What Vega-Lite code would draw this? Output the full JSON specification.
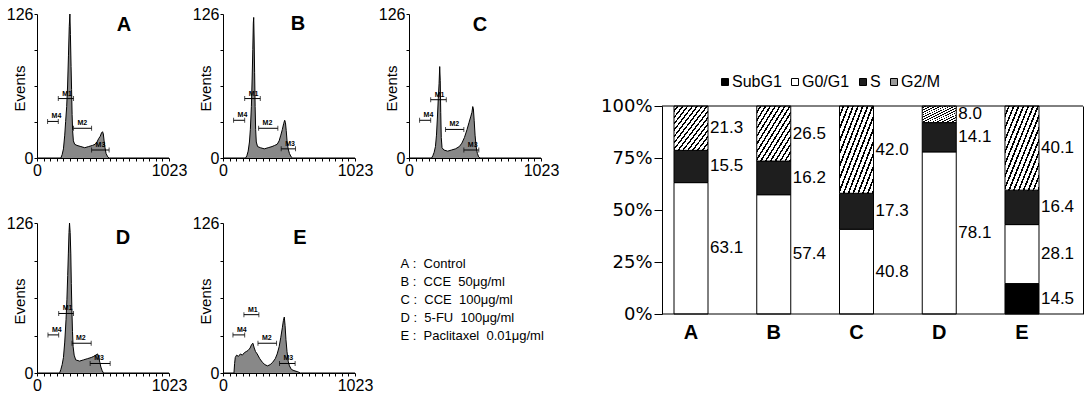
{
  "$schema": "https://vega.github.io/schema/vega-lite/v6.json",
  "padding": {"left": 6, "top": 6, "right": 0, "bottom": 0},
  "autosize": {"type": "pad"},
  "config": {
    "view": {"stroke": null},
    "font": "Liberation Sans",
    "axis": {"labelColor": "#000000", "domainColor": "#000000", "tickColor": "#000000", "titleColor": "#000000"},
    "text": {"color": "#000000"}
  },
  "datasets": {
    "hist": [
      {"p":"A","c":0,"n":0},{"p":"A","c":185,"n":0},{"p":"A","c":195,"n":3},{"p":"A","c":205,"n":8},{"p":"A","c":215,"n":20},{"p":"A","c":222,"n":32},{"p":"A","c":230,"n":45},{"p":"A","c":237,"n":63},{"p":"A","c":244,"n":90},{"p":"A","c":250,"n":115},{"p":"A","c":255,"n":126},{"p":"A","c":259,"n":108},{"p":"A","c":264,"n":80},{"p":"A","c":268,"n":60},{"p":"A","c":272,"n":38},{"p":"A","c":276,"n":24},{"p":"A","c":282,"n":15},{"p":"A","c":292,"n":12},{"p":"A","c":310,"n":11},{"p":"A","c":340,"n":10},{"p":"A","c":370,"n":9},{"p":"A","c":400,"n":10},{"p":"A","c":430,"n":11},{"p":"A","c":450,"n":12},{"p":"A","c":465,"n":14},{"p":"A","c":478,"n":17},{"p":"A","c":490,"n":19},{"p":"A","c":500,"n":22},{"p":"A","c":508,"n":23},{"p":"A","c":514,"n":21},{"p":"A","c":520,"n":15},{"p":"A","c":527,"n":9},{"p":"A","c":535,"n":4},{"p":"A","c":548,"n":1},{"p":"A","c":560,"n":0},{"p":"A","c":1023,"n":0},
      {"p":"B","c":0,"n":0},{"p":"B","c":175,"n":0},{"p":"B","c":185,"n":2},{"p":"B","c":195,"n":6},{"p":"B","c":205,"n":14},{"p":"B","c":212,"n":25},{"p":"B","c":220,"n":45},{"p":"B","c":226,"n":70},{"p":"B","c":231,"n":95},{"p":"B","c":235,"n":118},{"p":"B","c":238,"n":123},{"p":"B","c":241,"n":105},{"p":"B","c":245,"n":75},{"p":"B","c":249,"n":45},{"p":"B","c":253,"n":25},{"p":"B","c":258,"n":14},{"p":"B","c":268,"n":10},{"p":"B","c":290,"n":9},{"p":"B","c":320,"n":8},{"p":"B","c":350,"n":9},{"p":"B","c":380,"n":10},{"p":"B","c":400,"n":11},{"p":"B","c":420,"n":12},{"p":"B","c":435,"n":15},{"p":"B","c":448,"n":20},{"p":"B","c":460,"n":25},{"p":"B","c":470,"n":30},{"p":"B","c":478,"n":33},{"p":"B","c":484,"n":31},{"p":"B","c":490,"n":24},{"p":"B","c":497,"n":14},{"p":"B","c":505,"n":8},{"p":"B","c":515,"n":4},{"p":"B","c":528,"n":1},{"p":"B","c":540,"n":0},{"p":"B","c":1023,"n":0},
      {"p":"C","c":0,"n":0},{"p":"C","c":175,"n":0},{"p":"C","c":185,"n":2},{"p":"C","c":195,"n":5},{"p":"C","c":205,"n":10},{"p":"C","c":213,"n":20},{"p":"C","c":220,"n":35},{"p":"C","c":227,"n":52},{"p":"C","c":233,"n":65},{"p":"C","c":238,"n":80},{"p":"C","c":242,"n":68},{"p":"C","c":246,"n":40},{"p":"C","c":250,"n":18},{"p":"C","c":256,"n":9},{"p":"C","c":270,"n":7},{"p":"C","c":300,"n":6},{"p":"C","c":330,"n":7},{"p":"C","c":360,"n":8},{"p":"C","c":390,"n":10},{"p":"C","c":410,"n":13},{"p":"C","c":430,"n":18},{"p":"C","c":450,"n":25},{"p":"C","c":465,"n":31},{"p":"C","c":478,"n":36},{"p":"C","c":488,"n":40},{"p":"C","c":494,"n":45},{"p":"C","c":499,"n":43},{"p":"C","c":505,"n":33},{"p":"C","c":512,"n":20},{"p":"C","c":520,"n":10},{"p":"C","c":530,"n":4},{"p":"C","c":540,"n":1},{"p":"C","c":550,"n":0},{"p":"C","c":1023,"n":0},
      {"p":"D","c":0,"n":0},{"p":"D","c":175,"n":0},{"p":"D","c":185,"n":3},{"p":"D","c":195,"n":7},{"p":"D","c":205,"n":13},{"p":"D","c":215,"n":26},{"p":"D","c":225,"n":45},{"p":"D","c":232,"n":62},{"p":"D","c":238,"n":82},{"p":"D","c":243,"n":100},{"p":"D","c":248,"n":118},{"p":"D","c":252,"n":126},{"p":"D","c":257,"n":118},{"p":"D","c":262,"n":100},{"p":"D","c":266,"n":75},{"p":"D","c":270,"n":55},{"p":"D","c":275,"n":35},{"p":"D","c":280,"n":22},{"p":"D","c":288,"n":15},{"p":"D","c":300,"n":11},{"p":"D","c":330,"n":10},{"p":"D","c":360,"n":11},{"p":"D","c":390,"n":12},{"p":"D","c":420,"n":13},{"p":"D","c":440,"n":14},{"p":"D","c":455,"n":15},{"p":"D","c":470,"n":16},{"p":"D","c":478,"n":13},{"p":"D","c":487,"n":9},{"p":"D","c":495,"n":5},{"p":"D","c":505,"n":2},{"p":"D","c":515,"n":0},{"p":"D","c":1023,"n":0},
      {"p":"E","c":0,"n":0},{"p":"E","c":85,"n":0},{"p":"E","c":90,"n":8},{"p":"E","c":95,"n":13},{"p":"E","c":105,"n":15},{"p":"E","c":120,"n":14},{"p":"E","c":135,"n":16},{"p":"E","c":150,"n":15},{"p":"E","c":165,"n":17},{"p":"E","c":180,"n":18},{"p":"E","c":195,"n":19},{"p":"E","c":210,"n":21},{"p":"E","c":222,"n":24},{"p":"E","c":232,"n":25},{"p":"E","c":242,"n":21},{"p":"E","c":252,"n":18},{"p":"E","c":265,"n":16},{"p":"E","c":285,"n":12},{"p":"E","c":305,"n":9},{"p":"E","c":325,"n":7},{"p":"E","c":345,"n":6},{"p":"E","c":365,"n":7},{"p":"E","c":385,"n":9},{"p":"E","c":405,"n":12},{"p":"E","c":420,"n":16},{"p":"E","c":435,"n":22},{"p":"E","c":448,"n":30},{"p":"E","c":460,"n":38},{"p":"E","c":468,"n":44},{"p":"E","c":475,"n":47},{"p":"E","c":481,"n":40},{"p":"E","c":488,"n":28},{"p":"E","c":496,"n":18},{"p":"E","c":505,"n":10},{"p":"E","c":515,"n":6},{"p":"E","c":530,"n":3},{"p":"E","c":550,"n":2},{"p":"E","c":580,"n":1},{"p":"E","c":600,"n":0},{"p":"E","c":1023,"n":0}
    ],
    "mk": [
      {"p":"A","m":"M4","x1":82,"x2":165,"y":32},{"p":"A","m":"M1","x1":165,"x2":283,"y":52},{"p":"A","m":"M2","x1":283,"x2":423,"y":26},{"p":"A","m":"M3","x1":423,"x2":559,"y":7},
      {"p":"B","m":"M4","x1":82,"x2":168,"y":33},{"p":"B","m":"M1","x1":168,"x2":289,"y":52},{"p":"B","m":"M2","x1":276,"x2":425,"y":26},{"p":"B","m":"M3","x1":451,"x2":562,"y":8},
      {"p":"C","m":"M4","x1":82,"x2":168,"y":33},{"p":"C","m":"M1","x1":168,"x2":289,"y":51},{"p":"C","m":"M2","x1":283,"x2":425,"y":25},{"p":"C","m":"M3","x1":425,"x2":541,"y":7},
      {"p":"D","m":"M4","x1":85,"x2":168,"y":32},{"p":"D","m":"M1","x1":168,"x2":283,"y":50},{"p":"D","m":"M2","x1":271,"x2":420,"y":25},{"p":"D","m":"M3","x1":412,"x2":567,"y":8},
      {"p":"E","m":"M4","x1":77,"x2":168,"y":32},{"p":"E","m":"M1","x1":162,"x2":278,"y":49},{"p":"E","m":"M2","x1":271,"x2":415,"y":25},{"p":"E","m":"M3","x1":438,"x2":559,"y":8}
    ],
    "cycle": [
      {"g":"A","phase":"G0/G1","v":63.1,"o":2},{"g":"A","phase":"S","v":15.5,"o":3},{"g":"A","phase":"G2/M","v":21.3,"o":4},
      {"g":"B","phase":"G0/G1","v":57.4,"o":2},{"g":"B","phase":"S","v":16.2,"o":3},{"g":"B","phase":"G2/M","v":26.5,"o":4},
      {"g":"C","phase":"G0/G1","v":40.8,"o":2},{"g":"C","phase":"S","v":17.3,"o":3},{"g":"C","phase":"G2/M","v":42.0,"o":4},
      {"g":"D","phase":"G0/G1","v":78.1,"o":2},{"g":"D","phase":"S","v":14.1,"o":3},{"g":"D","phase":"G2/M","v":8.0,"o":4},
      {"g":"E","phase":"SubG1","v":14.5,"o":1},{"g":"E","phase":"G0/G1","v":28.1,"o":2},{"g":"E","phase":"S","v":16.4,"o":3},{"g":"E","phase":"G2/M","v":40.1,"o":4}
    ],
    "leg": [
      {"r":1,"t":"A\u00a0:\u00a0\u00a0Control"},
      {"r":2,"t":"B\u00a0:\u00a0\u00a0CCE\u00a0\u00a050μg/ml"},
      {"r":3,"t":"C\u00a0:\u00a0\u00a0CCE\u00a0\u00a0100μg/ml"},
      {"r":4,"t":"D\u00a0:\u00a0\u00a05-FU\u00a0\u00a0100μg/ml"},
      {"r":5,"t":"E\u00a0:\u00a0\u00a0Paclitaxel\u00a0\u00a00.01μg/ml"}
    ]
  },
  "bounds": "flush",
  "align": "each",
  "columns": 4,
  "spacing": {"row": 65, "column": 54},
  "resolve": {"scale": {"fill": "independent"}, "legend": {"fill": "independent"}},
  "concat": [
    {"width": 132, "height": 144, "resolve": {"axis": {"x": "independent", "y": "independent"}}, "layer": [
      {"data": {"name": "hist"}, "transform": [{"filter": "datum.p == 'A'"}],
       "mark": {"type": "area", "color": "#555555", "line": {"color": "#000000", "strokeWidth": 1}},
       "encoding": {
         "x": {"field": "c", "type": "quantitative", "scale": {"domain": [0, 1023], "nice": false}, "axis": {"values": [0,51.15,102.3,153.45,204.6,255.75,306.9,358.05,409.2,460.35,511.5,562.65,613.8,664.95,716.1,767.25,818.4,869.55,920.7,971.85,1023], "labelExpr": "datum.value == 0 || datum.value == 1023 ? datum.label : ''", "format": "d", "title": null, "grid": false, "domain": true, "ticks": true, "domainWidth": 1, "tickWidth": 1, "tickSize": 3, "labelFlush": false, "labelPadding": 1, "labelFontSize": 16, "labelOverlap": false, "labelFont": "Liberation Sans Narrow, Liberation Sans, sans-serif"}},
         "y": {"field": "n", "type": "quantitative", "scale": {"domain": [0, 126], "nice": false}, "axis": {"values": [0,31.5,63,94.5,126], "labelExpr": "datum.value == 0 || datum.value == 126 ? datum.label : ''", "format": "d", "title": "Events", "titleX": -18, "titleY": 74, "titleAngle": -90, "titleAlign": "center", "titleBaseline": "middle", "titleFontSize": 15, "titleFontWeight": "normal", "titleFont": "Liberation Sans", "grid": false, "domain": true, "ticks": true, "domainWidth": 1, "tickWidth": 1, "tickSize": 3, "labelPadding": 1, "labelFontSize": 16, "labelFont": "Liberation Sans Narrow, Liberation Sans, sans-serif", "labelOverlap": false, "labelFlush": false}}
       }},
      {"data": {"name": "mk"}, "transform": [{"filter": "datum.p == 'A'"}], "layer": [
        {"mark": {"type": "rule", "color": "#000000", "strokeWidth": 1}, "encoding": {"x": {"field": "x1", "type": "quantitative", "axis": null}, "x2": {"field": "x2"}, "y": {"field": "y", "type": "quantitative", "axis": null}}},
        {"mark": {"type": "tick", "orient": "vertical", "size": 5, "thickness": 1, "color": "#000000"}, "encoding": {"x": {"field": "x1", "type": "quantitative", "axis": null}, "y": {"field": "y", "type": "quantitative", "axis": null}}},
        {"mark": {"type": "tick", "orient": "vertical", "size": 5, "thickness": 1, "color": "#000000"}, "encoding": {"x": {"field": "x2", "type": "quantitative", "axis": null}, "y": {"field": "y", "type": "quantitative", "axis": null}}},
        {"mark": {"type": "text", "align": "left", "dx": 4, "dy": -5, "fontSize": 7, "fontWeight": "bold"}, "encoding": {"x": {"field": "x1", "type": "quantitative", "axis": null}, "y": {"field": "y", "type": "quantitative", "axis": null}, "text": {"field": "m"}}}
      ]},
      {"data": {"values": [{}]}, "mark": {"type": "text", "fontSize": 20, "fontWeight": "bold", "baseline": "middle"}, "encoding": {"x": {"datum": 674, "type": "quantitative", "axis": null}, "y": {"datum": 116.5, "type": "quantitative", "axis": null}, "text": {"value": "A"}}}
    ]},
    {"width": 132, "height": 144, "resolve": {"axis": {"x": "independent", "y": "independent"}}, "layer": [
      {"data": {"name": "hist"}, "transform": [{"filter": "datum.p == 'B'"}],
       "mark": {"type": "area", "color": "#555555", "line": {"color": "#000000", "strokeWidth": 1}},
       "encoding": {
         "x": {"field": "c", "type": "quantitative", "scale": {"domain": [0, 1023], "nice": false}, "axis": {"values": [0,51.15,102.3,153.45,204.6,255.75,306.9,358.05,409.2,460.35,511.5,562.65,613.8,664.95,716.1,767.25,818.4,869.55,920.7,971.85,1023], "labelExpr": "datum.value == 0 || datum.value == 1023 ? datum.label : ''", "format": "d", "title": null, "grid": false, "domain": true, "ticks": true, "domainWidth": 1, "tickWidth": 1, "tickSize": 3, "labelFlush": false, "labelPadding": 1, "labelFontSize": 16, "labelOverlap": false, "labelFont": "Liberation Sans Narrow, Liberation Sans, sans-serif"}},
         "y": {"field": "n", "type": "quantitative", "scale": {"domain": [0, 126], "nice": false}, "axis": {"values": [0,31.5,63,94.5,126], "labelExpr": "datum.value == 0 || datum.value == 126 ? datum.label : ''", "format": "d", "title": "Events", "titleX": -18, "titleY": 74, "titleAngle": -90, "titleAlign": "center", "titleBaseline": "middle", "titleFontSize": 15, "titleFontWeight": "normal", "titleFont": "Liberation Sans", "grid": false, "domain": true, "ticks": true, "domainWidth": 1, "tickWidth": 1, "tickSize": 3, "labelPadding": 1, "labelFontSize": 16, "labelFont": "Liberation Sans Narrow, Liberation Sans, sans-serif", "labelOverlap": false, "labelFlush": false}}
       }},
      {"data": {"name": "mk"}, "transform": [{"filter": "datum.p == 'B'"}], "layer": [
        {"mark": {"type": "rule", "color": "#000000", "strokeWidth": 1}, "encoding": {"x": {"field": "x1", "type": "quantitative", "axis": null}, "x2": {"field": "x2"}, "y": {"field": "y", "type": "quantitative", "axis": null}}},
        {"mark": {"type": "tick", "orient": "vertical", "size": 5, "thickness": 1, "color": "#000000"}, "encoding": {"x": {"field": "x1", "type": "quantitative", "axis": null}, "y": {"field": "y", "type": "quantitative", "axis": null}}},
        {"mark": {"type": "tick", "orient": "vertical", "size": 5, "thickness": 1, "color": "#000000"}, "encoding": {"x": {"field": "x2", "type": "quantitative", "axis": null}, "y": {"field": "y", "type": "quantitative", "axis": null}}},
        {"mark": {"type": "text", "align": "left", "dx": 4, "dy": -5, "fontSize": 7, "fontWeight": "bold"}, "encoding": {"x": {"field": "x1", "type": "quantitative", "axis": null}, "y": {"field": "y", "type": "quantitative", "axis": null}, "text": {"field": "m"}}}
      ]},
      {"data": {"values": [{}]}, "mark": {"type": "text", "fontSize": 20, "fontWeight": "bold", "baseline": "middle"}, "encoding": {"x": {"datum": 581, "type": "quantitative", "axis": null}, "y": {"datum": 117.5, "type": "quantitative", "axis": null}, "text": {"value": "B"}}}
    ]},
    {"width": 132, "height": 144, "resolve": {"axis": {"x": "independent", "y": "independent"}}, "layer": [
      {"data": {"name": "hist"}, "transform": [{"filter": "datum.p == 'C'"}],
       "mark": {"type": "area", "color": "#555555", "line": {"color": "#000000", "strokeWidth": 1}},
       "encoding": {
         "x": {"field": "c", "type": "quantitative", "scale": {"domain": [0, 1023], "nice": false}, "axis": {"values": [0,51.15,102.3,153.45,204.6,255.75,306.9,358.05,409.2,460.35,511.5,562.65,613.8,664.95,716.1,767.25,818.4,869.55,920.7,971.85,1023], "labelExpr": "datum.value == 0 || datum.value == 1023 ? datum.label : ''", "format": "d", "title": null, "grid": false, "domain": true, "ticks": true, "domainWidth": 1, "tickWidth": 1, "tickSize": 3, "labelFlush": false, "labelPadding": 1, "labelFontSize": 16, "labelOverlap": false, "labelFont": "Liberation Sans Narrow, Liberation Sans, sans-serif"}},
         "y": {"field": "n", "type": "quantitative", "scale": {"domain": [0, 126], "nice": false}, "axis": {"values": [0,31.5,63,94.5,126], "labelExpr": "datum.value == 0 || datum.value == 126 ? datum.label : ''", "format": "d", "title": "Events", "titleX": -18, "titleY": 74, "titleAngle": -90, "titleAlign": "center", "titleBaseline": "middle", "titleFontSize": 15, "titleFontWeight": "normal", "titleFont": "Liberation Sans", "grid": false, "domain": true, "ticks": true, "domainWidth": 1, "tickWidth": 1, "tickSize": 3, "labelPadding": 1, "labelFontSize": 16, "labelFont": "Liberation Sans Narrow, Liberation Sans, sans-serif", "labelOverlap": false, "labelFlush": false}}
       }},
      {"data": {"name": "mk"}, "transform": [{"filter": "datum.p == 'C'"}], "layer": [
        {"mark": {"type": "rule", "color": "#000000", "strokeWidth": 1}, "encoding": {"x": {"field": "x1", "type": "quantitative", "axis": null}, "x2": {"field": "x2"}, "y": {"field": "y", "type": "quantitative", "axis": null}}},
        {"mark": {"type": "tick", "orient": "vertical", "size": 5, "thickness": 1, "color": "#000000"}, "encoding": {"x": {"field": "x1", "type": "quantitative", "axis": null}, "y": {"field": "y", "type": "quantitative", "axis": null}}},
        {"mark": {"type": "tick", "orient": "vertical", "size": 5, "thickness": 1, "color": "#000000"}, "encoding": {"x": {"field": "x2", "type": "quantitative", "axis": null}, "y": {"field": "y", "type": "quantitative", "axis": null}}},
        {"mark": {"type": "text", "align": "left", "dx": 4, "dy": -5, "fontSize": 7, "fontWeight": "bold"}, "encoding": {"x": {"field": "x1", "type": "quantitative", "axis": null}, "y": {"field": "y", "type": "quantitative", "axis": null}, "text": {"field": "m"}}}
      ]},
      {"data": {"values": [{}]}, "mark": {"type": "text", "fontSize": 20, "fontWeight": "bold", "baseline": "middle"}, "encoding": {"x": {"datum": 550, "type": "quantitative", "axis": null}, "y": {"datum": 116.7, "type": "quantitative", "axis": null}, "text": {"value": "C"}}}
    ]},
    {"width": 421, "height": 144,
     "data": {"name": "cycle"},
     "resolve": {"axis": {"y": "independent"}},
     "layer": [
       {"mark": {"type": "bar", "width": 34, "xOffset": -16, "stroke": "#000000", "strokeWidth": 1},
        "encoding": {
          "x": {"field": "g", "type": "nominal", "scale": {"paddingInner": 0, "paddingOuter": 0.044}, "axis": {"title": null, "labelAngle": 0, "labelFontSize": 20, "labelFontWeight": "bold", "labelFont": "Liberation Sans", "ticks": false, "domain": false, "labelOffset": -16, "labelPadding": 8, "offset": 156}},
          "y": {"field": "v", "type": "quantitative", "stack": "normalize", "scale": {"domain": [0, 1], "nice": false, "range": [300, 92]}, "axis": {"values": [0, 0.25, 0.5, 0.75, 1], "format": ".0%", "title": null, "grid": false, "tickSize": 8, "labelPadding": 2, "labelFontSize": 18, "labelFont": "DejaVu Sans", "labelFlush": false}},
          "order": {"field": "o", "type": "quantitative"},
          "fill": {
            "condition": {"test": "datum.phase === 'G2/M'", "value": {"gradient": "linear", "x1": 0, "y1": 0, "x2": 1, "y2": 1, "stops": [
              {"offset": 0, "color": "#ffffff"},{"offset": 0.0464, "color": "#ffffff"},{"offset": 0.0464, "color": "#000000"},{"offset": 0.0714, "color": "#000000"},
              {"offset": 0.0714, "color": "#ffffff"},{"offset": 0.1179, "color": "#ffffff"},{"offset": 0.1179, "color": "#000000"},{"offset": 0.1429, "color": "#000000"},
              {"offset": 0.1429, "color": "#ffffff"},{"offset": 0.1893, "color": "#ffffff"},{"offset": 0.1893, "color": "#000000"},{"offset": 0.2143, "color": "#000000"},
              {"offset": 0.2143, "color": "#ffffff"},{"offset": 0.2607, "color": "#ffffff"},{"offset": 0.2607, "color": "#000000"},{"offset": 0.2857, "color": "#000000"},
              {"offset": 0.2857, "color": "#ffffff"},{"offset": 0.3321, "color": "#ffffff"},{"offset": 0.3321, "color": "#000000"},{"offset": 0.3571, "color": "#000000"},
              {"offset": 0.3571, "color": "#ffffff"},{"offset": 0.4036, "color": "#ffffff"},{"offset": 0.4036, "color": "#000000"},{"offset": 0.4286, "color": "#000000"},
              {"offset": 0.4286, "color": "#ffffff"},{"offset": 0.475, "color": "#ffffff"},{"offset": 0.475, "color": "#000000"},{"offset": 0.5, "color": "#000000"},
              {"offset": 0.5, "color": "#ffffff"},{"offset": 0.5464, "color": "#ffffff"},{"offset": 0.5464, "color": "#000000"},{"offset": 0.5714, "color": "#000000"},
              {"offset": 0.5714, "color": "#ffffff"},{"offset": 0.6179, "color": "#ffffff"},{"offset": 0.6179, "color": "#000000"},{"offset": 0.6429, "color": "#000000"},
              {"offset": 0.6429, "color": "#ffffff"},{"offset": 0.6893, "color": "#ffffff"},{"offset": 0.6893, "color": "#000000"},{"offset": 0.7143, "color": "#000000"},
              {"offset": 0.7143, "color": "#ffffff"},{"offset": 0.7607, "color": "#ffffff"},{"offset": 0.7607, "color": "#000000"},{"offset": 0.7857, "color": "#000000"},
              {"offset": 0.7857, "color": "#ffffff"},{"offset": 0.8321, "color": "#ffffff"},{"offset": 0.8321, "color": "#000000"},{"offset": 0.8571, "color": "#000000"},
              {"offset": 0.8571, "color": "#ffffff"},{"offset": 0.9036, "color": "#ffffff"},{"offset": 0.9036, "color": "#000000"},{"offset": 0.9286, "color": "#000000"},
              {"offset": 0.9286, "color": "#ffffff"},{"offset": 0.975, "color": "#ffffff"},{"offset": 0.975, "color": "#000000"},{"offset": 1, "color": "#000000"}
            ]}},
            "field": "phase", "type": "nominal",
            "scale": {"domain": ["SubG1", "G0/G1", "S", "G2/M"], "range": ["#000000", "#ffffff", "#1e1e1e", "#9a9a9a"]},
            "legend": {"orient": "none", "legendX": 55, "legendY": 60, "direction": "horizontal", "title": null, "symbolType": "square", "symbolSize": 49, "symbolStrokeColor": "#000000", "symbolStrokeWidth": 1, "labelFontSize": 16, "labelOffset": -1, "columnPadding": 5, "labelFont": "Liberation Sans", "labelColor": "#000000", "labelExpr": "datum.label == 'S' ? 'S\u00a0\u00a0\u00a0\u00a0\u00a0' : datum.label"}
          }
        }},
       {"mark": {"type": "text", "align": "left", "baseline": "middle", "dx": 3, "fontSize": 17},
        "encoding": {
          "x": {"field": "g", "type": "nominal"},
          "y": {"field": "v", "type": "quantitative", "stack": "normalize", "bandPosition": 0.5, "axis": null},
          "detail": {"field": "phase"},
          "order": {"field": "o", "type": "quantitative"},
          "text": {"field": "v", "type": "quantitative", "format": ".1f"}
        }},
       {"data": {"values": [{}]}, "mark": {"type": "rule", "color": "#000000", "strokeWidth": 1},
        "encoding": {"y": {"datum": 1, "type": "quantitative", "axis": {"orient": "right", "labels": false, "ticks": false, "domain": true, "title": null, "grid": false}}}},
       {"data": {"values": [{}]}, "mark": {"type": "rule", "color": "#000000", "strokeWidth": 1},
        "encoding": {"y": {"datum": 0, "type": "quantitative", "axis": null}}}
     ]},
    {"width": 132, "height": 150, "resolve": {"axis": {"x": "independent", "y": "independent"}}, "layer": [
      {"data": {"name": "hist"}, "transform": [{"filter": "datum.p == 'D'"}],
       "mark": {"type": "area", "color": "#555555", "line": {"color": "#000000", "strokeWidth": 1}},
       "encoding": {
         "x": {"field": "c", "type": "quantitative", "scale": {"domain": [0, 1023], "nice": false}, "axis": {"values": [0,51.15,102.3,153.45,204.6,255.75,306.9,358.05,409.2,460.35,511.5,562.65,613.8,664.95,716.1,767.25,818.4,869.55,920.7,971.85,1023], "labelExpr": "datum.value == 0 || datum.value == 1023 ? datum.label : ''", "format": "d", "title": null, "grid": false, "domain": true, "ticks": true, "domainWidth": 1, "tickWidth": 1, "tickSize": 3, "labelFlush": false, "labelPadding": 1, "labelFontSize": 16, "labelOverlap": false, "labelFont": "Liberation Sans Narrow, Liberation Sans, sans-serif"}},
         "y": {"field": "n", "type": "quantitative", "scale": {"domain": [0, 126], "nice": false}, "axis": {"values": [0,31.5,63,94.5,126], "labelExpr": "datum.value == 0 || datum.value == 126 ? datum.label : ''", "format": "d", "title": "Events", "titleX": -18, "titleY": 78, "titleAngle": -90, "titleAlign": "center", "titleBaseline": "middle", "titleFontSize": 15, "titleFontWeight": "normal", "titleFont": "Liberation Sans", "grid": false, "domain": true, "ticks": true, "domainWidth": 1, "tickWidth": 1, "tickSize": 3, "labelPadding": 1, "labelFontSize": 16, "labelFont": "Liberation Sans Narrow, Liberation Sans, sans-serif", "labelOverlap": false, "labelFlush": false}}
       }},
      {"data": {"name": "mk"}, "transform": [{"filter": "datum.p == 'D'"}], "layer": [
        {"mark": {"type": "rule", "color": "#000000", "strokeWidth": 1}, "encoding": {"x": {"field": "x1", "type": "quantitative", "axis": null}, "x2": {"field": "x2"}, "y": {"field": "y", "type": "quantitative", "axis": null}}},
        {"mark": {"type": "tick", "orient": "vertical", "size": 5, "thickness": 1, "color": "#000000"}, "encoding": {"x": {"field": "x1", "type": "quantitative", "axis": null}, "y": {"field": "y", "type": "quantitative", "axis": null}}},
        {"mark": {"type": "tick", "orient": "vertical", "size": 5, "thickness": 1, "color": "#000000"}, "encoding": {"x": {"field": "x2", "type": "quantitative", "axis": null}, "y": {"field": "y", "type": "quantitative", "axis": null}}},
        {"mark": {"type": "text", "align": "left", "dx": 4, "dy": -5, "fontSize": 7, "fontWeight": "bold"}, "encoding": {"x": {"field": "x1", "type": "quantitative", "axis": null}, "y": {"field": "y", "type": "quantitative", "axis": null}, "text": {"field": "m"}}}
      ]},
      {"data": {"values": [{}]}, "mark": {"type": "text", "fontSize": 20, "fontWeight": "bold", "baseline": "middle"}, "encoding": {"x": {"datum": 667, "type": "quantitative", "axis": null}, "y": {"datum": 113.4, "type": "quantitative", "axis": null}, "text": {"value": "D"}}}
    ]},
    {"width": 132, "height": 150, "resolve": {"axis": {"x": "independent", "y": "independent"}}, "layer": [
      {"data": {"name": "hist"}, "transform": [{"filter": "datum.p == 'E'"}],
       "mark": {"type": "area", "color": "#555555", "line": {"color": "#000000", "strokeWidth": 1}},
       "encoding": {
         "x": {"field": "c", "type": "quantitative", "scale": {"domain": [0, 1023], "nice": false}, "axis": {"values": [0,51.15,102.3,153.45,204.6,255.75,306.9,358.05,409.2,460.35,511.5,562.65,613.8,664.95,716.1,767.25,818.4,869.55,920.7,971.85,1023], "labelExpr": "datum.value == 0 || datum.value == 1023 ? datum.label : ''", "format": "d", "title": null, "grid": false, "domain": true, "ticks": true, "domainWidth": 1, "tickWidth": 1, "tickSize": 3, "labelFlush": false, "labelPadding": 1, "labelFontSize": 16, "labelOverlap": false, "labelFont": "Liberation Sans Narrow, Liberation Sans, sans-serif"}},
         "y": {"field": "n", "type": "quantitative", "scale": {"domain": [0, 126], "nice": false}, "axis": {"values": [0,31.5,63,94.5,126], "labelExpr": "datum.value == 0 || datum.value == 126 ? datum.label : ''", "format": "d", "title": "Events", "titleX": -18, "titleY": 78, "titleAngle": -90, "titleAlign": "center", "titleBaseline": "middle", "titleFontSize": 15, "titleFontWeight": "normal", "titleFont": "Liberation Sans", "grid": false, "domain": true, "ticks": true, "domainWidth": 1, "tickWidth": 1, "tickSize": 3, "labelPadding": 1, "labelFontSize": 16, "labelFont": "Liberation Sans Narrow, Liberation Sans, sans-serif", "labelOverlap": false, "labelFlush": false}}
       }},
      {"data": {"name": "mk"}, "transform": [{"filter": "datum.p == 'E'"}], "layer": [
        {"mark": {"type": "rule", "color": "#000000", "strokeWidth": 1}, "encoding": {"x": {"field": "x1", "type": "quantitative", "axis": null}, "x2": {"field": "x2"}, "y": {"field": "y", "type": "quantitative", "axis": null}}},
        {"mark": {"type": "tick", "orient": "vertical", "size": 5, "thickness": 1, "color": "#000000"}, "encoding": {"x": {"field": "x1", "type": "quantitative", "axis": null}, "y": {"field": "y", "type": "quantitative", "axis": null}}},
        {"mark": {"type": "tick", "orient": "vertical", "size": 5, "thickness": 1, "color": "#000000"}, "encoding": {"x": {"field": "x2", "type": "quantitative", "axis": null}, "y": {"field": "y", "type": "quantitative", "axis": null}}},
        {"mark": {"type": "text", "align": "left", "dx": 4, "dy": -5, "fontSize": 7, "fontWeight": "bold"}, "encoding": {"x": {"field": "x1", "type": "quantitative", "axis": null}, "y": {"field": "y", "type": "quantitative", "axis": null}, "text": {"field": "m"}}}
      ]},
      {"data": {"values": [{}]}, "mark": {"type": "text", "fontSize": 20, "fontWeight": "bold", "baseline": "middle"}, "encoding": {"x": {"datum": 597, "type": "quantitative", "axis": null}, "y": {"datum": 113.4, "type": "quantitative", "axis": null}, "text": {"value": "E"}}}
    ]},
    {"width": 199, "height": 150, "data": {"name": "leg"},
     "mark": {"type": "text", "align": "left", "baseline": "middle", "dx": -108, "fontSize": 13, "font": "Liberation Sans Narrow, Liberation Sans, sans-serif"},
     "encoding": {
       "y": {"field": "r", "type": "quantitative", "scale": {"domain": [-1.278, 7.056], "reverse": true, "nice": false, "zero": false}, "axis": null},
       "text": {"field": "t"}
     }}
  ]
}
